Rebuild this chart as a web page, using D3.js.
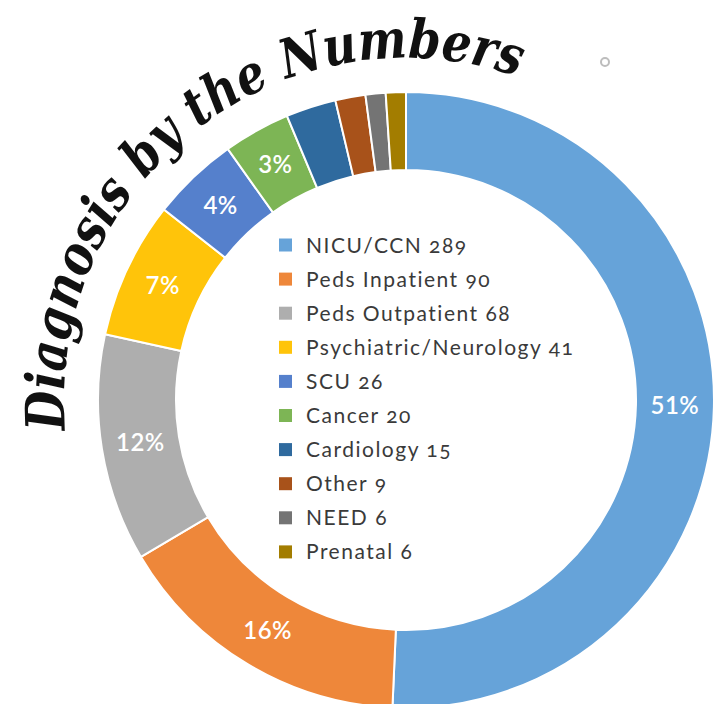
<!DOCTYPE html>
<html>
<head>
<meta charset="utf-8">
<script src="https://cdn.jsdelivr.net/npm/d3@7"></script>
<style>
  body { margin: 0; background: #fff; }
  svg { display: block; }
</style>
</head>
<body>
<div class="canvas"></div>
<script>
// data
const categories = ["NICU/CCN", "Peds Inpatient", "Peds Outpatient", "Psychiatric/Neurology",
  "SCU", "Cancer", "Cardiology", "Other", "NEED", "Prenatal"];
const counts = [289, 90, 68, 41, 26, 20, 15, 9, 6, 6];
const pctLabels = ["51%", "16%", "12%", "7%", "4%", "3%", "", "", "", ""];
const colors = ["#66a3d9", "#ee873a", "#aeaeae", "#ffc40a", "#5580cc",
  "#7db555", "#2f6a9e", "#a8521a", "#747474", "#a37d00"];
const title = "Diagnosis by the Numbers";

const width = 717, height = 704;
const cx = 406, cy = 400;
const outerR = 308, innerR = 230;

const svg = d3.select(".canvas").append("svg")
  .attr("width", width)
  .attr("height", height);

const color = d3.scaleOrdinal().domain(categories).range(colors);

const pie = d3.pie().sort(null).value(d => d.count);
const arc = d3.arc().innerRadius(innerR).outerRadius(outerR);
const rows = categories.map((c, i) => ({ name: c, count: counts[i], label: pctLabels[i] }));

const donut = svg.append("g")
  .attr("transform", `translate(${cx},${cy})`);

donut.selectAll("path")
  .data(pie(rows))
  .join("path")
  .attr("d", arc)
  .attr("fill", d => color(d.data.name))
  .attr("stroke", "#fff")
  .attr("stroke-width", 2);

donut.selectAll("text")
  .data(pie(rows))
  .join("text")
  .attr("transform", d => `translate(${arc.centroid(d)})`)
  .attr("text-anchor", "middle")
  .attr("dy", "0.35em")
  .attr("fill", "#fff")
  .style("font-family", "Lato, sans-serif")
  .style("font-weight", 600)
  .style("font-size", "24px")
  .style("letter-spacing", "0.5px")
  .text(d => d.data.label);

// legend in the hole
const legend = svg.append("g")
  .attr("transform", "translate(279,245)");

const item = legend.selectAll("g")
  .data(rows)
  .join("g")
  .attr("transform", (d, i) => `translate(0,${i * 34.1})`);

item.append("rect")
  .attr("x", 0)
  .attr("y", -6.5)
  .attr("width", 13)
  .attr("height", 13)
  .attr("fill", d => color(d.name));

item.append("text")
  .attr("x", 27)
  .attr("dy", "0.36em")
  .attr("fill", "#3a3a3a")
  .style("font-family", "Lato, sans-serif")
  .style("font-size", "21px")
  .style("letter-spacing", "1.5px")
  .style("font-variant-numeric", "oldstyle-nums")
  .text(d => `${d.name} ${d.count}`);

// curved title along an arc around the donut
const titleR = 342;
const a0 = -95 * Math.PI / 180, a1 = 19 * Math.PI / 180;
const pt = a => [cx + titleR * Math.sin(a), cy - titleR * Math.cos(a)];
const [sx, sy] = pt(a0), [ex, ey] = pt(a1);

svg.append("path")
  .attr("id", "titlePath")
  .attr("d", `M${sx},${sy} A${titleR},${titleR} 0 0 1 ${ex},${ey}`)
  .attr("fill", "none");

svg.append("text")
  .attr("fill", "#111")
  .style("font-family", "'DejaVu Serif', serif")
  .style("font-style", "italic")
  .style("font-weight", 700)
  .style("font-size", "54px")
  .append("textPath")
  .attr("href", "#titlePath")
  .attr("textLength", titleR * (a1 - a0))
  .attr("lengthAdjust", "spacingAndGlyphs")
  .text(title);

// small stray ring at top right
svg.append("circle")
  .attr("cx", 605)
  .attr("cy", 62)
  .attr("r", 4)
  .attr("fill", "none")
  .attr("stroke", "#bdbdbd")
  .attr("stroke-width", 2);
</script>
</body>
</html>
